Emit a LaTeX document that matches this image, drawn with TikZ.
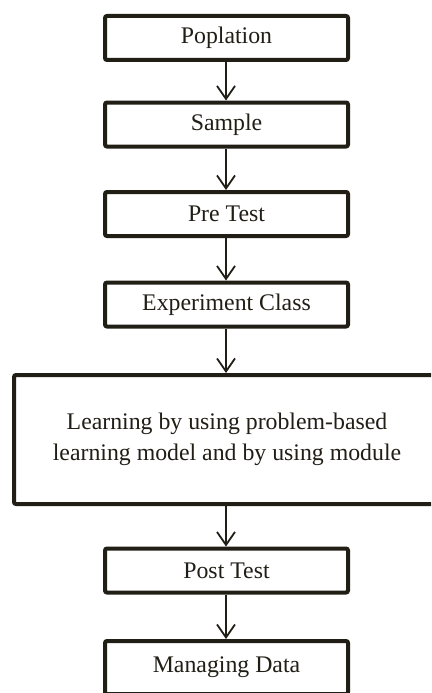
\documentclass[tikz,border=0pt]{standalone}
\usepackage{fontspec}
\setmainfont{Liberation Serif}
\usetikzlibrary{arrows.meta}
\definecolor{ink}{RGB}{33,30,22}
\begin{document}
\begin{tikzpicture}[x=1pt,y=-1pt,
  stepbox/.style={draw=ink, line width=4pt, rounded corners=2pt, inner sep=0pt,
    minimum width=243pt, minimum height=44pt, text=ink,
    font=\fontsize{23.8}{31}\selectfont, align=center},
  flow/.style={draw=ink, line width=1.8pt,
    -{Straight Barb[length=13pt,width=18pt,line width=1.8pt]}}]
\useasboundingbox[fill=white] (0,0) rectangle (431,693);
\begin{scope}
\clip (0,0) rectangle (431,693);
\node[stepbox] (pop) at (226.5,38) {Poplation};
\node[stepbox] (sam) at (226.5,124.5) {Sample};
\node[stepbox] (pre) at (226.5,214) {Pre Test};
\node[stepbox] (exp) at (226.5,304.5) {Experiment Class};
\node[stepbox, minimum width=426pt, minimum height=129pt] (learn) at (227,439.5)
  {Learning by using problem-based\\learning model and by using module};
\node[stepbox] (post) at (226.5,570.5) {Post Test};
\node[stepbox, minimum height=53pt] (data) at (226.5,667.5) {Managing Data};
\end{scope}
\draw[flow] (pop.south -| 226,0) -- (sam.north -| 226,0);
\draw[flow] (sam.south -| 226,0) -- (pre.north -| 226,0);
\draw[flow] (pre.south -| 226,0) -- (exp.north -| 226,0);
\draw[flow] (exp.south -| 226,0) -- (learn.north -| 226,0);
\draw[flow] (learn.south -| 226,0) -- (post.north -| 226,0);
\draw[flow] (post.south -| 226,0) -- (data.north -| 226,0);
\end{tikzpicture}
\end{document}
